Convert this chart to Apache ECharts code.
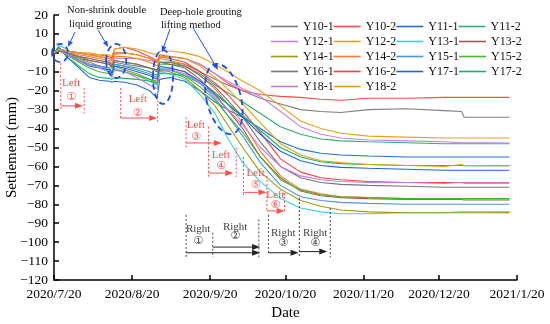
<!DOCTYPE html>
<html><head><meta charset="utf-8">
<script src="https://cdn.jsdelivr.net/npm/echarts@6/dist/echarts.min.js"></script>
<style>html,body{margin:0;padding:0;background:#fff}#c{width:550px;height:324px}</style>
</head><body><div id="c"></div>
<script>
// ---- data (day offsets from 2020/7/20) ----
const tickDays = [0, 31, 62, 92, 123, 153, 184];
const tickLabels = ['2020/7/20','2020/8/20','2020/9/20','2020/10/20','2020/11/20','2020/12/20','2021/1/20'];
const days = [0,2,5,10,14,18,22,23,24,28,33,38,41,42,46,52,58,64,69,75,82,90,98,106,114,125,140,155,162,163,172,181];
const seriesNames = ['Y10-1','Y10-2','Y11-1','Y11-2','Y12-1','Y12-2','Y13-1','Y13-2','Y14-1','Y14-2','Y15-1','Y15-2','Y16-1','Y16-2','Y17-1','Y17-2','Y18-1','Y18-2'];
const Y10_1 = [0,1,-1,-3,-4,-5,-6,-8,-5,-6,-7,-8,-9,-5,-5,-6,-10,-14,-17,-20,-24,-27,-30,-31,-31.5,-30,-29.5,-30.5,-31,-34,-34,-34];
const Y10_2 = [0,2,1,0,-1,-1,-2,-3,2,3,1,-2,-4,-1,-2,-3,-6,-11,-16,-20,-22,-23,-23.5,-24.5,-25,-24,-24,-23.5,-23.5,-23.5,-23.5,-23.5];
const Y11_1 = [0,3,-2,-8,-13,-14.5,-15,-15.5,-15,-15.5,-17,-20,-24,-14,-13,-15,-20,-26,-30,-34,-40,-47,-51,-53,-54,-54.5,-55,-55,-55,-55,-55,-55];
const Y11_2 = [0,2,-1,-4,-6,-7,-8,-10,-6,-7,-8,-10,-12,-6,-6,-7,-11,-17,-21,-26,-32,-39,-43,-45.5,-46.5,-47,-47.5,-48,-48,-48,-48,-48];
const Y12_1 = [0,2,0,-2,-3,-4,-5,-6,-3,-3,-3,-4,-5,-2,-2,-3,-6,-11,-15,-19,-23,-31,-39,-43,-45,-46,-46.5,-47,-47.5,-47.5,-47.5,-47.6];
const Y12_2 = [0,2,1,0,0,-1,-1,-2,2,3,2,0,-1,1,1,0,-2,-6,-10,-15,-20,-28,-36,-40,-42.5,-44,-44.5,-45,-45,-45,-45,-45];
const Y13_1 = [0,4,2,-3,-6,-8,-10,-12,-8,-10,-12,-15,-17,-10,-11,-14,-22,-32,-45,-58,-68,-77,-82,-84,-85,-85,-84.5,-84.5,-84,-84,-84,-84];
const Y13_2 = [0,2,0,-2,-4,-5,-6,-8,-4,-5,-6,-8,-10,-5,-6,-8,-14,-22,-30,-40,-55,-66,-73,-75.5,-76.5,-77,-77.5,-77.5,-77.5,-77.7,-77.7,-77.7];
const Y14_1 = [0,2,0,-3,-5,-7,-9,-11,-7,-9,-11,-14,-16,-9,-10,-13,-20,-28,-38,-50,-63,-72,-78,-81,-83,-84,-84.5,-84.5,-84.5,-84.5,-84.5,-84.4];
const Y14_2 = [0,2,1,-1,-2,-3,-4,-6,-2,-2,-3,-5,-7,-3,-4,-6,-12,-19,-27,-37,-52,-65,-72,-74.5,-76,-76.5,-77,-77,-77,-77,-77,-77];
const Y15_1 = [0,2,-1,-4,-6,-7,-8,-10,-6,-7,-9,-11,-13,-7,-8,-10,-16,-24,-33,-44,-58,-70,-76,-78,-79,-79.5,-80,-80,-80,-80,-80,-80];
const Y15_2 = [0,2,-1,-5,-8,-10,-11,-12,-9,-10,-12,-14,-15,-9,-9,-12,-18,-25,-33,-42,-55,-67,-72.5,-75,-76,-76.5,-77,-77,-77,-77,-77,-77];
const Y16_1 = [0,1,0,-2,-3,-4,-5,-7,-4,-5,-6,-8,-9,-5,-5,-7,-12,-18,-25,-34,-47,-60,-66,-68.5,-69.5,-70,-70.5,-71,-71,-71,-71,-71];
const Y16_2 = [0,2,1,0,-1,-2,-3,-4,0,0,-1,-3,-5,-2,-3,-5,-10,-16,-22,-31,-42,-56,-63,-66,-67,-68,-68.5,-68.5,-68.5,-68.6,-68.6,-68.6];
const Y17_1 = [0,2,-1,-4,-7,-8,-9,-11,-7,-8,-10,-12,-14,-8,-8,-10,-15,-21,-27,-34,-43,-52,-57,-59.5,-60.5,-61,-61.5,-62,-62,-62,-62,-62];
const Y17_2 = [0,3,-2,-7,-11,-13,-13.5,-14,-13,-13.5,-14,-15,-16,-11,-11,-12,-16,-22,-27,-33,-41,-50,-55,-57.5,-58.5,-59,-59.5,-59.5,-59.5,-59.6,-59.6,-59.6];
const Y18_1 = [0,2,-1,-4,-6,-8,-10,-13,-9,-10,-13,-17,-19,-10,-9,-11,-16,-23,-30,-38,-50,-60,-65,-67,-68,-68.5,-68.5,-69,-68.5,-68.8,-68.8,-68.8];
const Y18_2 = [0,2,1,0,-1,-2,-3,-4,-1,0,-1,-3,-5,-2,-2,-3,-7,-13,-19,-27,-37,-48,-54,-57,-58,-59,-59.5,-60,-59,-59.5,-59.6,-59.6];
const seriesValues = [Y10_1,Y10_2,Y11_1,Y11_2,Y12_1,Y12_2,Y13_1,Y13_2,Y14_1,Y14_2,Y15_1,Y15_2,Y16_1,Y16_2,Y17_1,Y17_2,Y18_1,Y18_2];

// ---- styles ----
const colors = ['#7f7f7f','#ff4b4b','#1f6fd6','#2fae6f','#c77ff0','#e8a21a','#33d6e0','#a05a5a','#9c9a14','#ff7a30','#4d94dc','#45b52a','#767676','#ff3c3c','#1e66e6','#12b464','#c478f0','#eb9f10'];
const FONT = "'Liberation Serif','Times New Roman',serif";
const CIRC = "'DejaVu Sans','Noto Sans CJK SC',sans-serif";

// ---- annotations (in data coordinates: [day, value]) ----
const leftVLines = [[2.7,-5.4,-30],[12.0,-18.6,-32],[26.5,-18.6,-35.5],[41.2,-25,-36.5],[52.5,-34,-50],[61.4,-39,-66],[72.4,-50,-65.6],[75.3,-55,-75],[84.6,-65,-84],[91.6,-74,-84]];
const leftArrows = [[2.7,11.5,-28],[26.5,41,-34.4],[52.5,66.7,-47.6],[61.4,71.2,-63.5],[75.3,84.4,-73.7],[84.6,91.6,-83.5]];
const leftLabels = [[6.8,-16,-23.2,'①'],[33.3,-24.5,-31.6,'②'],[56.4,-38,-44.3,'③'],[66.3,-54,-60.1,'④'],[80.1,-63.6,-69.8,'⑤'],[88,-75,-80.3,'⑥']];
const rightVLines = [[52.5,-85.6,-108],[63.1,-95,-108],[81.4,-88,-108],[85.2,-85.6,-106],[97.5,-76.7,-108],[109.8,-82,-108]];
const rightArrows = [[52.5,81.9,-105.6],[63.1,81.9,-102.6],[85.2,97.2,-105.6],[97.5,108.6,-105]];
const rightLabels = [[57.3,-93,-99.5,'①'],[72,-92,-97,'②'],[91.1,-95.2,-100.6,'③'],[103.8,-95.2,-100.6,'④']];
const blueEllipses = [[2.4,-0.1,3.2,4.8,0],[24.7,-4.3,4,9,0],[43.3,-12.7,4,14.3,0],[67.5,-24.4,6.8,19,14]];
const blueArrows = [[8.35,11,5.6,3.1],[17.5,12.1,21.5,3.1],[46.1,12.6,42.9,0.45],[55.3,13.1,65.2,-9]];
const noteTexts = [['Non-shrink double',5.2,22.6],['liquid grouting',6,15.2],['Deep-hole grouting',42.1,21.2],['lifting method',42.5,14.7]];

const chart = echarts.init(document.getElementById('c'), null, {renderer:'canvas'});
const series = seriesNames.map((n,i)=>({
  name:n, type:'line', symbol:'none', data: days.map((d,k)=>[d, seriesValues[i][k]]),
  lineStyle:{width:1.1, color:colors[i]}, itemStyle:{color:colors[i]}, emphasis:{disabled:true}
}));
const option = {
  animation:false,
  grid:{left:54, right:33, top:15, bottom:44, containLabel:false, outerBoundsMode:'none'},
  legend:{left:266, top:14, width:270, itemGap:0, itemWidth:27, itemHeight:1.6, icon:'rect',
    textStyle:{fontFamily:FONT, fontSize:12, color:'#111', lineHeight:15}, data:seriesNames},
  xAxis:{type:'value', min:0, max:184,
    axisLine:{onZero:false, lineStyle:{color:'#000', width:1.5}},
    axisTick:{inside:true, length:5, customValues:tickDays, lineStyle:{color:'#000', width:1.5}},
    axisLabel:{customValues:tickDays, formatter:v=>tickLabels[tickDays.indexOf(Math.round(v))]||'', color:'#000', fontSize:13.5, fontFamily:FONT, margin:7},
    splitLine:{show:false},
    name:'Date', nameLocation:'middle', nameGap:26, nameTextStyle:{fontFamily:FONT, fontSize:15, color:'#000'}},
  yAxis:{type:'value', min:-120, max:20, interval:10,
    axisLine:{show:true, onZero:false, lineStyle:{color:'#000', width:1.5}},
    axisTick:{show:true, inside:true, length:5, lineStyle:{color:'#000', width:1.5}},
    axisLabel:{formatter:v=>String(v).replace('-','\u2212'), color:'#000', fontSize:13.5, fontFamily:FONT, margin:6},
    splitLine:{show:false}, nameMoveOverlap:false,
    name:'Settlement (mm)', nameLocation:'middle', nameGap:34, nameTextStyle:{fontFamily:FONT, fontSize:15, color:'#000'}},
  series
};
chart.setOption(option);

function P(d,v){return chart.convertToPixel({gridIndex:0},[d,v]);}
const els = [];
function dashLine(a,b,color,dash,w){els.push({type:'line', silent:true, z:50, shape:{x1:a[0],y1:a[1],x2:b[0],y2:b[1]}, style:{stroke:color, lineWidth:w, lineDash:dash}});}
function arrow(a,b,color,hl,hw,w){
  const dx=b[0]-a[0], dy=b[1]-a[1], L=Math.hypot(dx,dy), ux=dx/L, uy=dy/L, nx=-uy, ny=ux;
  const bx=b[0]-ux*hl, by=b[1]-uy*hl;
  els.push({type:'line', silent:true, z:51, shape:{x1:a[0],y1:a[1],x2:bx,y2:by}, style:{stroke:color, lineWidth:w}});
  els.push({type:'polygon', silent:true, z:51, shape:{points:[[b[0],b[1]],[bx+nx*hw,by+ny*hw],[bx-nx*hw,by-ny*hw]]}, style:{fill:color}});
}
function txt(t,p,color,font,size,align){els.push({type:'text', silent:true, z:52, x:p[0], y:p[1], style:{text:t, fill:color, fontFamily:font, fontSize:size, align:align||'center', verticalAlign:'middle'}});}

const RED='#ff4d4d', DARK='#444', BLUE='#1f4fe6';
leftVLines.forEach(l=>dashLine(P(l[0],l[1]),P(l[0],l[2]),RED,[2,2],1));
leftArrows.forEach(a=>arrow(P(a[0],a[2]),P(a[1],a[2]),RED,8,3,1));
leftLabels.forEach(l=>{txt('Left',P(l[0],l[1]),RED,FONT,11);txt(l[3],P(l[0],l[2]),RED,CIRC,11);});
rightVLines.forEach(l=>dashLine(P(l[0],l[1]),P(l[0],l[2]),DARK,[2,2],1));
rightArrows.forEach(a=>arrow(P(a[0],a[2]),P(a[1],a[2]),'#222',8,3,1));
rightLabels.forEach(l=>{txt('Right',P(l[0],l[1]),DARK,FONT,11);txt(l[3],P(l[0],l[2]),DARK,CIRC,11);});
const sx = P(1,0)[0]-P(0,0)[0], sy = P(0,0)[1]-P(0,1)[1];
blueEllipses.forEach(e=>{const c=P(e[0],e[1]);
  els.push({type:'ellipse', silent:true, z:53, x:c[0], y:c[1], rotation:e[4]*Math.PI/180, shape:{cx:0,cy:0,rx:e[2]*sx,ry:e[3]*sy}, style:{fill:'none', stroke:BLUE, lineWidth:1.8, lineDash:[6,4]}});});
blueArrows.forEach(a=>arrow(P(a[0],a[1]),P(a[2],a[3]),BLUE,6,2.5,1));
noteTexts.forEach(t=>txt(t[0],P(t[1],t[2]),'#111',FONT,10.5,'left'));
chart.setOption({graphic:els});
</script></body></html>
